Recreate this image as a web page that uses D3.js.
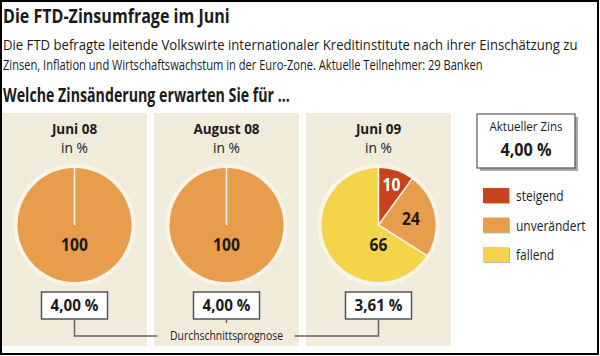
<!DOCTYPE html>
<html><head><meta charset="utf-8">
<script src="https://cdn.jsdelivr.net/npm/d3@7"></script>
<style>
html,body{margin:0;padding:0;background:#fff;}
svg{display:block;font-family:"Open Sans",sans-serif;}
</style></head>
<body>
<svg id="c" width="600" height="356"></svg>
<script>
// ---- data ----
const periods = ["Juni 08", "August 08", "Juni 09"];
const categories = ["steigend", "unverändert", "fallend"];
const steigend = [0, 0, 10];
const unveraendert = [100, 100, 24];
const fallend = [0, 0, 66];
const forecasts = [4.00, 4.00, 3.61];
const currentRate = 4.00;
const title = "Die FTD-Zinsumfrage im Juni";
const subtitleLines = ["Die FTD befragte leitende Volkswirte internationaler Kreditinstitute nach ihrer Einschätzung zu",
  "Zinsen, Inflation und Wirtschaftswachstum in der Euro-Zone. Aktuelle Teilnehmer: 29 Banken"];
const question = "Welche Zinsänderung erwarten Sie für ...";
const unitLabel = "in %";
const forecastLabel = "Durchschnittsprognose";
const currentLabel = "Aktueller Zins";

const colors = {"steigend": "#c8421f", "unverändert": "#e89d4c", "fallend": "#f4d549"};
const fmt = v => d3.format(".2f")(v).replace(".", ",");
const dark = "#1b1b1b";

const svg = d3.select("#c");
// horizontally condense text (via transform) to mimic the narrow original typeface
// f < 1 : factor; opts.width : target width in px
function condense(sel, f, width) {
  sel.each(function() {
    const el = d3.select(this);
    const L = this.getComputedTextLength();
    const k = width ? width / L : f;
    const tx = +el.attr("x") || 0, ty = +el.attr("y") || 0;
    const prev = el.attr("transform") || "";
    el.attr("x", 0).attr("y", 0).attr("transform", `${prev} translate(${tx},${ty}) scale(${k},1)`);
  });
}

// headline texts
svg.append("text").attr("x", 3).attr("y", 23).attr("font-size", 20).attr("font-weight", 700)
  .attr("fill", dark).text(title).call(condense, null, 227);
svg.append("text").attr("x", 3).attr("y", 50).attr("font-size", 14).attr("fill", dark)
  .text(subtitleLines[0]).call(condense, null, 575);
svg.append("text").attr("x", 3).attr("y", 70).attr("font-size", 14).attr("fill", dark)
  .text(subtitleLines[1]).call(condense, null, 480);
svg.append("text").attr("x", 3).attr("y", 102).attr("font-size", 19.5).attr("font-weight", 700)
  .attr("fill", dark).text(question).call(condense, null, 287);

// panels
const x = d3.scaleBand().domain(periods).range([2, 451]).paddingInner(0.046);
const panelTop = 113, panelBottom = 346;
const cy = 225, r = 57, ringR = 61;

const data = periods.map((p, i) => ({
  period: p,
  values: [
    {cat: categories[0], v: steigend[i]},
    {cat: categories[1], v: unveraendert[i]},
    {cat: categories[2], v: fallend[i]}
  ],
  forecast: forecasts[i]
}));

const pie = d3.pie().sort(null).value(d => d.v);
const arc = d3.arc().innerRadius(0).outerRadius(r);

const panels = svg.selectAll("g.panel").data(data).join("g").attr("class", "panel")
  .attr("transform", d => `translate(${x(d.period)},0)`);

panels.append("rect").attr("x", 0).attr("y", panelTop).attr("width", x.bandwidth())
  .attr("height", panelBottom - panelTop).attr("fill", "#f1ebdc");

const cx = x.bandwidth() / 2;
panels.append("text").attr("x", cx).attr("y", 134).attr("text-anchor", "middle")
  .attr("font-size", 15).attr("font-weight", 700).attr("fill", dark)
  .text(d => d.period).call(condense, 0.9);
panels.append("text").attr("x", cx).attr("y", 153).attr("text-anchor", "middle")
  .attr("font-size", 15).attr("fill", dark).text(unitLabel).call(condense, 0.92);

const pg = panels.append("g").attr("transform", `translate(${cx},${cy})`);
pg.append("circle").attr("r", ringR).attr("fill", "#f8f4e8");
pg.each(function(d) {
  const g = d3.select(this);
  const arcs = pie(d.values).filter(a => a.data.v > 0);
  g.selectAll("path").data(arcs).join("path").attr("d", arc).attr("fill", a => colors[a.data.cat]);
  g.selectAll("line.sep").data(arcs).join("line").attr("class", "sep")
    .attr("x1", 0).attr("y1", 0)
    .attr("x2", a => r * Math.sin(a.startAngle)).attr("y2", a => -r * Math.cos(a.startAngle))
    .attr("stroke", "#f8f4e8").attr("stroke-width", 1.6);
  g.selectAll("text").data(arcs).join("text")
    .attr("text-anchor", "middle").attr("font-size", 17).attr("font-weight", 700)
    .attr("fill", a => a.data.cat === "steigend" ? "#fff" : dark)
    .attr("x", a => {
      const share = (a.endAngle - a.startAngle) / (2 * Math.PI);
      if (share > 0.5) return 0;
      const lr = share < 0.15 ? r * 0.74 : r * 0.58;
      return lr * Math.sin((a.startAngle + a.endAngle) / 2);
    })
    .attr("y", a => {
      const share = (a.endAngle - a.startAngle) / (2 * Math.PI);
      if (share > 0.5) return 26;
      const lr = share < 0.15 ? r * 0.74 : r * 0.58;
      return -lr * Math.cos((a.startAngle + a.endAngle) / 2) + 6;
    })
    .text(a => a.data.v).call(condense, 0.92);
});

// forecast boxes
const boxW = 66, boxH = 27, boxY = 292;
panels.append("rect").attr("x", cx - boxW / 2).attr("y", boxY).attr("width", boxW).attr("height", boxH)
  .attr("fill", "#fff").attr("stroke", "#555").attr("stroke-width", 1.5);
panels.append("text").attr("x", cx).attr("y", 311).attr("text-anchor", "middle")
  .attr("font-size", 16.5).attr("font-weight", 700).attr("fill", dark)
  .text(d => fmt(d.forecast) + " %").call(condense, 0.92);

// connector
const lineY = 336;
const c0 = x(periods[0]) + cx, c1 = x(periods[1]) + cx, c2 = x(periods[2]) + cx;
svg.append("text").attr("x", c1).attr("y", 340).attr("text-anchor", "middle")
  .attr("font-size", 12.5).attr("fill", dark).text(forecastLabel).call(condense, null, 113);
const lineStyle = s => s.attr("fill", "none").attr("stroke", "#666").attr("stroke-width", 1.5);
svg.append("path").attr("d", `M${c0},${boxY + boxH}V${lineY}H${c1 - 69}`).call(lineStyle);
svg.append("path").attr("d", `M${c1 + 68},${lineY}H${c2}V${boxY + boxH}`).call(lineStyle);
svg.append("path").attr("d", `M${c1},${boxY + boxH}V${boxY + boxH + 4}`).call(lineStyle);

// current rate box
svg.append("rect").attr("x", 480).attr("y", 117).attr("width", 98).attr("height", 54).attr("fill", "#aaa");
svg.append("rect").attr("x", 477).attr("y", 114).attr("width", 98).attr("height", 54)
  .attr("fill", "#fff").attr("stroke", "#555").attr("stroke-width", 1.2);
svg.append("text").attr("x", 526).attr("y", 131).attr("text-anchor", "middle").attr("font-size", 13.5)
  .attr("fill", dark).text(currentLabel).call(condense, null, 73);
svg.append("text").attr("x", 526).attr("y", 156).attr("text-anchor", "middle").attr("font-size", 18)
  .attr("font-weight", 700).attr("fill", dark).text(fmt(currentRate) + " %").call(condense, 0.9);

// legend
const ly = d3.scalePoint().domain(categories).range([188, 247]);
const lg = svg.selectAll("g.leg").data(categories).join("g").attr("class", "leg")
  .attr("transform", d => `translate(483,${ly(d)})`);
lg.append("rect").attr("x", 1).attr("y", 1).attr("width", 26).attr("height", 15).attr("fill", "#bbb");
lg.append("rect").attr("width", 26).attr("height", 15).attr("fill", d => colors[d]);
lg.append("text").attr("x", 33).attr("y", 13).attr("font-size", 15).attr("fill", dark).text(d => d)
  .call(condense, 0.8);

// outer frame
svg.append("rect").attr("x", 1).attr("y", 1).attr("width", 597).attr("height", 353)
  .attr("fill", "none").attr("stroke", "#000").attr("stroke-width", 2);
</script>
</body></html>
